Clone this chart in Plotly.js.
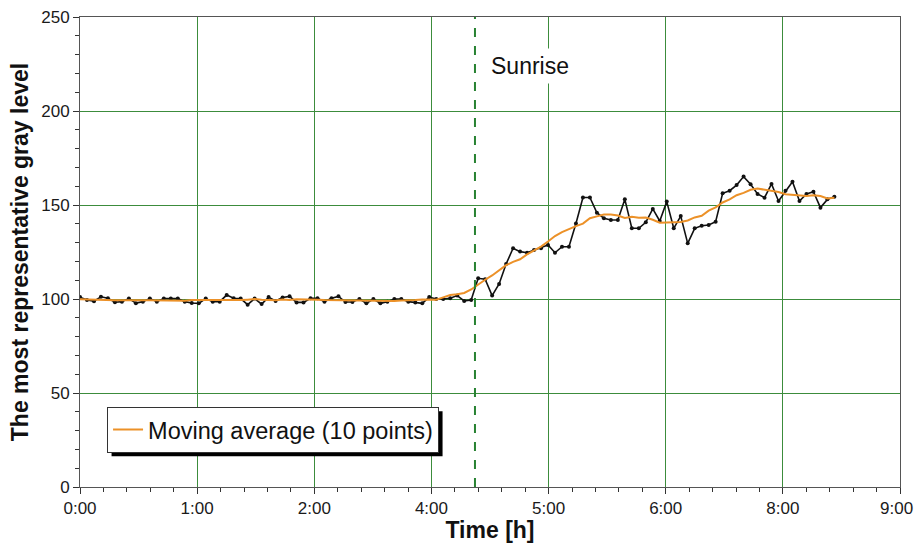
<!DOCTYPE html>
<html>
<head>
<meta charset="utf-8">
<script src="https://cdn.plot.ly/plotly-3.0.1.min.js"></script>
<style>html,body{margin:0;padding:0;background:#fff;}#chart{width:915px;height:543px;}</style>
</head>
<body>
<div id="chart"></div>
<script>
// Sample times (minutes since 0:00)
const timeMinutes = [0,4.6,9.2,13.8,18.4,23,27.6,32.2,36.8,41.4,46,50.6,55.2,59.8,64.4,69,73.6,78.2,82.8,87.4,92,96.6,101.2,105.8,110.4,115,119.6,124.2,128.8,133.4,138,142.6,147.2,151.8,156.4,161,165.6,170.2,174.8,179.4,184,188.6,193.2,197.8,202.4,207,211.6,216.2,220.8,225.4,230,234.6,239.2,243.8,248.4,253,257.6,262.2,266.8,271.4,276,280.6,285.2,289.8,294.4,299,303.6,308.2,312.8,317.4,322,326.6,331.2,335.8,340.4,345,349.6,354.2,358.8,363.4,368,372.6,377.2,381.8,386.4,391,395.6,400.2,404.8,409.4,414,418.6,423.2,427.8,432.4,437,441.6,446.2,450.8,455.4,460,464.6,469.2,473.8,478.4,483,487.6,492.2,496.8];
// Most representative gray level at each sample
const grayLevel = [101,99.5,98.8,101.2,100.4,98.3,98.6,100.2,97.8,98.6,100.2,98.6,100.2,100.2,100.2,98.6,97.9,97.7,100.2,98.6,98.6,102.1,100.4,100.2,97,100.2,97.3,101,99,100.8,101.4,98.2,98.2,100.4,100.4,98.6,100.4,101.4,98.4,98.4,100,97.7,100,97.7,98.6,100,100,98.6,98.2,97.7,101,100,100,100.4,101.8,99,99.5,111,110.5,101.8,108,118.6,127,125.2,124.6,126,127,128.7,124.6,127.8,127.8,140.2,154,154,145.9,142.9,142,142,153,137.6,137.6,140.8,147.9,141.5,151.8,137.6,144.1,129.6,137.6,139,139.4,141.1,156.2,157.6,160.6,165.1,161,155.9,153.9,161.2,152.1,157.6,162.4,152.1,155.9,157.1,148.6,153,154.4];
const sunriseHour = 4.335;
const xTickLabels = ["0:00","1:00","2:00","4:00","5:00","6:00","8:00","9:00"];
const yTickLabels = ["0","50","100","150","200","250"];
const legendName = "Moving average (10 points)";
const sunriseLabel = "Sunrise";
const windowSize = 10;

const hours = timeMinutes.map(m => m / 60);
// centered moving average of windowSize points (truncated at the edges)
const movingAvg = grayLevel.map((_, i) => {
  const lo = Math.max(0, i - (windowSize / 2 - 1)), hi = Math.min(grayLevel.length - 1, i + windowSize / 2);
  let s = 0; for (let k = lo; k <= hi; k++) s += grayLevel[k];
  return s / (hi - lo + 1);
});

const xMax = 9;
const nTicks = xTickLabels.length - 1;
const tickvals = xTickLabels.map((_, i) => i * xMax / nTicks);
// last label is drawn right-aligned as an annotation so it stays inside the page
const shownTickText = xTickLabels.map((t, i) => i === nTicks ? '' : t);

const gridColor = 'rgb(60,140,60)';
const font = 'Arial, "Liberation Sans", sans-serif';

const traces = [
  {x: hours, y: grayLevel, type: 'scatter', mode: 'lines+markers',
   line: {color: '#111', width: 1.6}, marker: {color: '#111', size: 4},
   showlegend: false, hoverinfo: 'skip'},
  {x: hours, y: movingAvg, type: 'scatter', mode: 'lines', name: legendName,
   line: {color: 'rgb(236,145,40)', width: 2}}
];

const layout = {
  width: 915, height: 543,
  margin: {l: 80, r: 15, t: 17, b: 56},
  paper_bgcolor: '#fff', plot_bgcolor: '#fff',
  font: {family: font, color: '#1a1a1a', size: 17},
  xaxis: {
    range: [0, xMax], tickmode: 'array', tickvals: tickvals, ticktext: shownTickText,
    ticks: 'outside', ticklen: 6, tickcolor: '#333',
    showgrid: true, gridcolor: gridColor, gridwidth: 1, zeroline: false,
    showline: true, linecolor: '#555', linewidth: 1, mirror: true,
    minor: {tickmode: 'linear', tick0: 0, dtick: xMax / nTicks / 5, ticks: 'outside', ticklen: 4, tickcolor: '#333', showgrid: false},
    tickfont: {size: 17, family: font},
    title: {text: '<b>Time [h]</b>', font: {size: 23, family: font, color: '#111'}, standoff: 2}
  },
  yaxis: {
    range: [0, 250], tickmode: 'array', tickvals: yTickLabels.map(Number), ticktext: yTickLabels,
    ticks: 'outside', ticklen: 6, tickcolor: '#333',
    showgrid: true, gridcolor: gridColor, gridwidth: 1, zeroline: false,
    showline: true, linecolor: '#555', linewidth: 1, mirror: true,
    minor: {tickmode: 'linear', tick0: 0, dtick: 10, ticks: 'outside', ticklen: 4, tickcolor: '#333', showgrid: false},
    tickfont: {size: 17, family: font},
    title: {text: '<b>The most representative gray level</b>', font: {size: 23, family: font, color: '#111'}, standoff: 6}
  },
  showlegend: true,
  legend: {x: 0.033, y: 0.171, xanchor: 'left', yanchor: 'top',
    bgcolor: '#fff', bordercolor: '#333', borderwidth: 1,
    font: {size: 23.5, family: font, color: '#111'}, itemwidth: 30},
  shapes: [
    {type: 'line', xref: 'x', yref: 'y', x0: sunriseHour, x1: sunriseHour, y0: 0, y1: 250,
     line: {color: 'rgb(40,130,50)', width: 2, dash: 'dash'}},
    {type: 'rect', xref: 'paper', yref: 'paper', x0: 0.038, x1: 0.436, y0: 0.071, y1: 0.163,
     fillcolor: '#000', line: {width: 0}, layer: 'above'}
  ],
  annotations: [
    {xref: 'x', yref: 'y', x: 4.46, y: 224, xanchor: 'left', yanchor: 'middle',
     text: sunriseLabel, showarrow: false, bgcolor: '#fff', borderpad: 4,
     font: {size: 23, family: font, color: '#111'}},
    {xref: 'x', yref: 'paper', x: tickvals[nTicks], y: 0, xanchor: 'right', yanchor: 'middle',
     xshift: 14, yshift: -21, text: xTickLabels[nTicks], showarrow: false, borderpad: 0,
     font: {size: 17, family: font, color: '#1a1a1a'}}
  ]
};

Plotly.newPlot('chart', traces, layout, {displayModeBar: false, staticPlot: true}).then(gd => {
  // fit the drop shadow to the rendered legend box
  const bg = gd.querySelector('.legend .bg');
  if (bg) {
    const r = bg.getBoundingClientRect();
    const sz = gd._fullLayout._size;
    const off = 4;
    Plotly.relayout(gd, {
      'shapes[1].x0': (r.left + off - sz.l) / sz.w,
      'shapes[1].x1': (r.right + off - sz.l) / sz.w,
      'shapes[1].y0': 1 - (r.bottom + off - sz.t) / sz.h,
      'shapes[1].y1': 1 - (r.top + off - sz.t) / sz.h
    });
  }
});
</script>
</body>
</html>
